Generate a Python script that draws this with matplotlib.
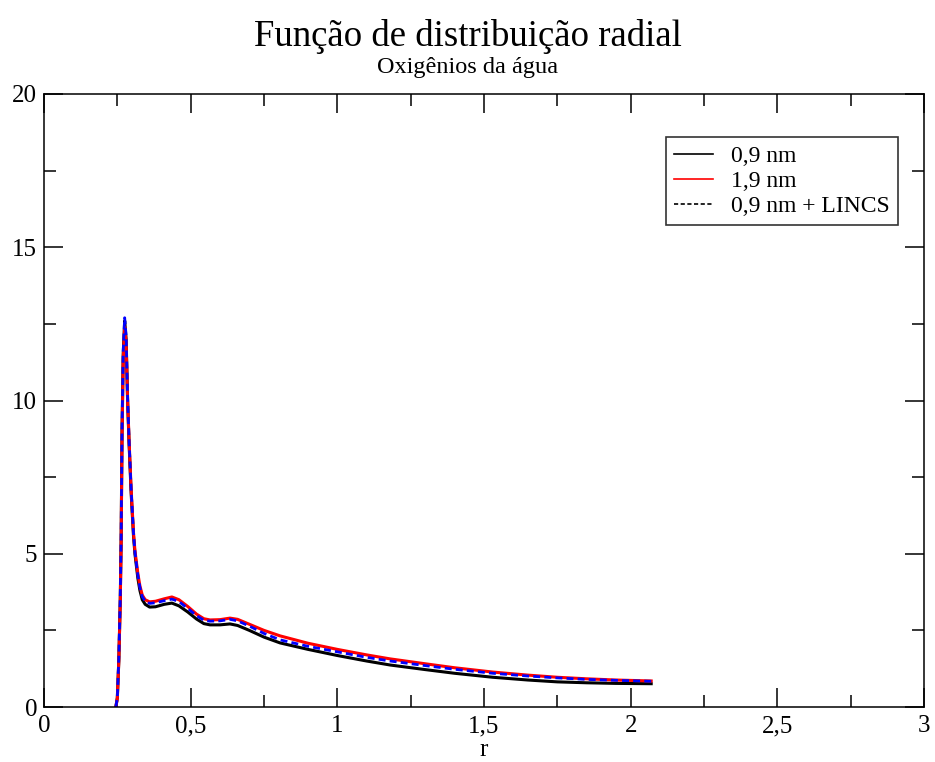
import matplotlib.pyplot as plt
import numpy as np

plt.rcParams['font.family'] = ['Liberation Serif', 'DejaVu Serif']

# g(r)
r = [0.245, 0.25, 0.255, 0.26, 0.263, 0.266, 0.27, 0.275, 0.28, 0.285, 0.29, 0.297, 0.305,
     0.31, 0.32, 0.327, 0.335, 0.345, 0.36, 0.38, 0.41, 0.436, 0.46, 0.49, 0.52, 0.545, 0.566,
     0.60, 0.634, 0.66, 0.70, 0.75, 0.805, 0.90, 1.00, 1.10, 1.18, 1.30, 1.40, 1.53, 1.65,
     1.75, 1.85, 1.95, 2.07]
g_09 = [0.0, 0.3, 1.5, 3.5, 5.5, 9.0, 11.5, 12.6, 12.0, 10.0, 8.6, 7.0, 5.6,
        5.0, 4.2, 3.8, 3.5, 3.35, 3.26, 3.27, 3.35, 3.39, 3.3, 3.1, 2.87, 2.72, 2.68,
        2.68, 2.71, 2.66, 2.5, 2.28, 2.09, 1.88, 1.68, 1.5, 1.37, 1.22, 1.1, 0.97, 0.88,
        0.82, 0.79, 0.77, 0.76]
g_19 = [0.0, 0.3, 1.5, 3.4, 5.4, 8.8, 11.3, 12.4, 11.9, 10.0, 8.7, 7.1, 5.7,
        5.1, 4.35, 3.95, 3.65, 3.5, 3.43, 3.45, 3.53, 3.59, 3.5, 3.28, 3.03, 2.88, 2.84,
        2.85, 2.9, 2.86, 2.7, 2.5, 2.32, 2.08, 1.88, 1.7, 1.57, 1.41, 1.28, 1.14, 1.04,
        0.97, 0.92, 0.88, 0.85]
g_09_lincs = [0.0, 0.3, 1.6, 3.6, 5.6, 9.1, 11.6, 12.7, 12.1, 10.1, 8.7, 7.1, 5.7,
              5.05, 4.3, 3.9, 3.6, 3.45, 3.38, 3.4, 3.47, 3.52, 3.44, 3.22, 2.98, 2.83, 2.8,
              2.81, 2.86, 2.81, 2.64, 2.4, 2.19, 1.98, 1.8, 1.62, 1.5, 1.35, 1.23, 1.1, 1.01,
              0.95, 0.9, 0.87, 0.84]

fig = plt.figure(figsize=(9.35, 7.62), dpi=100)
ax = fig.add_axes([44/935, 1-707/762, 880/935, 613/762])

ax.plot(r, g_09, color='black', lw=2.2, label='0,9 nm')
ax.plot(r, g_19, color='red', lw=2.2, label='1,9 nm')
ax.plot(r, g_09_lincs, color='blue', lw=2.0, ls=(0, (2.5, 1.5)), label='0,9 nm + LINCS')

ax.set_xlim(0, 3)
ax.set_ylim(0, 20)
ax.set_xticks(np.arange(0, 3.01, 0.5))
ax.set_xticklabels(['0', '0,5', '1', '1,5', '2', '2,5', '3'])
ax.set_xticks(np.arange(0, 3.01, 0.25), minor=True)
ax.set_yticks([0, 5, 10, 15, 20])
ax.set_yticks(np.arange(0, 20.1, 2.5), minor=True)
ax.tick_params(which='both', direction='in', top=True, right=True, labelsize=18)
ax.tick_params(axis='x', pad=6)
ax.tick_params(axis='y', pad=5)
ax.tick_params(which='major', length=14, width=1.1)
ax.tick_params(which='minor', length=8.5, width=1.1)
for s in ax.spines.values():
    s.set_linewidth(1.1)
ax.set_xlabel('r', fontsize=18, labelpad=1)

fig.text(0.5, 1-36/762, 'Função de distribuição radial', ha='center', va='center', fontsize=26.5)
fig.text(0.5, 1-67/762, 'Oxigênios da água', ha='center', va='center', fontsize=17.5)

leg = ax.legend(loc='upper right', bbox_to_anchor=((898-44)/880, (707-137)/613),
                bbox_transform=ax.transAxes, borderaxespad=0,
                fontsize=17, frameon=True, fancybox=False, edgecolor='black',
                handlelength=1.65, borderpad=0.35, labelspacing=0.15, handletextpad=0.75)
leg.get_frame().set_linewidth(1.2)
for h in leg.get_lines():
    h.set_linewidth(1.2)
leg.get_lines()[2].set_color('black')

fig.savefig('out.png', dpi=100)
